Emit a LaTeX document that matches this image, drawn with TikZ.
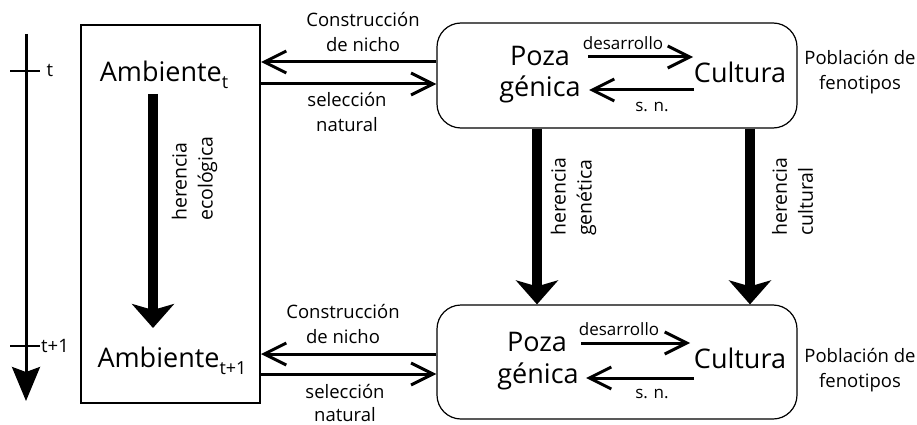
\documentclass[tikz,border=0pt]{standalone}
\usepackage{fontspec}
\setmainfont{Open Sans}
\usetikzlibrary{arrows.meta}
\tikzset{
  big/.style={font=\fontsize{27}{29}\selectfont},
  mid/.style={font=\fontsize{18.5}{25}\selectfont, align=center},
  rot/.style={font=\fontsize{19.5}{26}\selectfont, align=left, rotate=90, anchor=west, inner sep=0pt},
  small/.style={font=\fontsize{17}{18}\selectfont},
  thin/.style={line width=3pt, -{Straight Barb[length=22pt,width=22pt,line width=3pt]}},
  thick/.style={line width=10pt, -{Stealth[length=24pt,width=42pt,inset=6pt]}},
  popbox/.style={draw, line width=1.2pt, rounded corners=24pt, minimum width=360pt},
}
\newcommand{\sbt}[1]{\raisebox{-0.5ex}{\fontsize{18}{19}\selectfont #1}}
\begin{document}
\begin{tikzpicture}[x=1pt,y=-1pt]
\useasboundingbox (0,0) rectangle (917,425);
% timeline
\coordinate (tl0) at (26,34);
\coordinate (tl1) at (26,401);
\draw[line width=3pt, -{Stealth[length=34pt,width=28pt,inset=5pt]}] (tl0) -- (tl1);
\coordinate (ta) at (10,71); \coordinate (tb) at (40,71);
\coordinate (tc) at (10,346); \coordinate (td) at (40,346);
\draw[line width=2pt] (ta) -- (tb);
\draw[line width=2pt] (tc) -- (td);
\node[mid, anchor=west] (lt) at (43,70) {t};
\node[mid, anchor=west, inner sep=1pt] (lt1) at (40,346) {t+1};
% environment box
\node[draw, line width=2pt, minimum width=179pt, minimum height=378pt] (amb) at (170.5,214) {};
\node[big] (amb1) at (164,75) {Ambiente\sbt{t}};
\node[big] (amb2) at (172,361) {Ambiente\sbt{t+1}};
\coordinate (ea) at (153,94);
\coordinate (eb) at (153,328);
\draw[thick] (ea) -- (eb);
\node[rot] (eco) at (194.5,221) {herencia\\ecológica};
% population boxes
\node[popbox, minimum height=105pt] (pop1) at (617,75.5) {};
\node[popbox, minimum height=114pt] (pop2) at (617,362) {};
% top contents
\node[big] (poza1) at (540,56) {Poza};
\node[big] (gen1) at (540,89) {génica};
\node[big] (cul1) at (740,72) {Cultura};
\coordinate (d1a) at (588,57); \coordinate (d1b) at (693,57);
\draw[thin] (d1a) -- (d1b);
\node[small] (des1) at (623,43) {desarrollo};
\coordinate (s1a) at (694,90); \coordinate (s1b) at (589,90);
\draw[thin] (s1a) -- (s1b);
\node[small] (sn1) at (652,107) {s.\,\,n.};
\node[mid] (fen1) at (860,72) {Población de\\fenotipos};
% bottom contents
\node[big] (poza2) at (537,342) {Poza};
\node[big] (gen2) at (538,376) {génica};
\node[big] (cul2) at (740,358) {Cultura};
\coordinate (d2a) at (581,343); \coordinate (d2b) at (690,343);
\draw[thin] (d2a) -- (d2b);
\node[small] (des2) at (619,329) {desarrollo};
\coordinate (s2a) at (694,378); \coordinate (s2b) at (586,378);
\draw[thin] (s2a) -- (s2b);
\node[small] (sn2) at (652,394) {s.\,\,n.};
\node[mid] (fen2) at (860,370) {Población de\\fenotipos};
% horizontal arrows top
\draw[thin] (pop1.west |- 0,62) -- (amb.east |- 0,62);
\draw[thin] (amb.east |- 0,84) -- (pop1.west |- 0,84);
\node[mid] (cn1) at (363,32) {Construcción\\de nicho};
\node[mid] (sel1) at (347,112) {selección\\natural};
% horizontal arrows bottom
\draw[thin] (pop2.west |- 0,354) -- (amb.east |- 0,354);
\draw[thin] (amb.east |- 0,374) -- (pop2.west |- 0,374);
\node[mid] (cn2) at (343,324) {Construcción\\de nicho};
\node[mid, font=\fontsize{18.5}{23}\selectfont, inner sep=0pt] (sel2) at (345,403) {selección\\natural};
% vertical heredity arrows
\draw[thick] (pop1.south -| 537,0) -- (pop2.north -| 537,0);
\draw[thick] (pop1.south -| 750,0) -- (pop2.north -| 750,0);
\node[rot] (hg) at (573.5,236) {herencia\\genética};
\node[rot] (hc) at (792.5,236) {herencia\\cultural};
\end{tikzpicture}
\end{document}
